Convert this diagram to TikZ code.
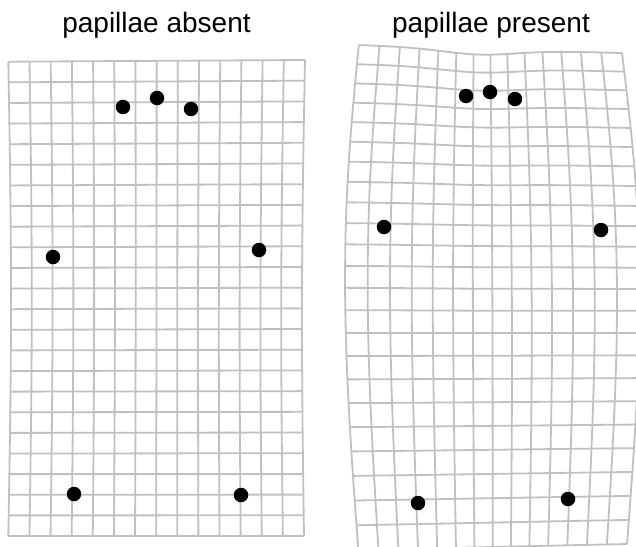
\documentclass[tikz,border=0pt]{standalone}
\usepackage{fontspec}
\setmainfont{Liberation Sans}
\definecolor{gridgray}{RGB}{192,192,192}
\begin{document}
\begin{tikzpicture}[x=1pt,y=-1pt,
  gridline/.style={draw=gridgray,line width=1.8pt,line join=round},
  lmk/.style={circle,fill=black,inner sep=0pt,minimum size=14.5pt},
  title/.style={anchor=base,inner sep=0pt,font=\fontsize{28}{32}\selectfont},
  declare function={
    LxL(\t)=8.3+2.7*sin(180*\t);
    LxR(\t)=305-1*\t-2.5*sin(180*\t);
    LX(\u,\v)=LxL(\v/23)+(LxR(\v/23)-LxL(\v/23))*\u/14;
    LY(\u,\v)=(61.7-1.7*\u/14)*(1-\v/23)+536*\v/23;
    RxL(\t)=358.8-0.5*\t-13.5*sin(180*\t);
    RxR(\t)=622+5*\t+15*sin(180*\t);
    RA(\t)=0.017*(1-\t)+0.008*\t;
    Rg(\s,\t)=\s+RA(\t)*sin(360*\s);
    RX(\u,\v)=RxL(\v/23)+(RxR(\v/23)-RxL(\v/23))*Rg(\u/14,\v/23);
    Rh(\t)=\t-0.041*sin(180*\t);
    Rq(\s)=(\s-0.45)/0.22;
    Rd(\t)=(1-\t)*(1-\t)*(1-\t)*(1-\t);
    RY(\u,\v)=(45+8*\u/14)*(1-Rh(\v/23))+(550-6*\u/14)*Rh(\v/23)+6*Rd(\v/23)*exp(-(Rq(\u/14)*Rq(\u/14)));
  }]
\useasboundingbox (0,0) rectangle (636,546);
\begin{scope}
  \clip (0,0) rectangle (636,546);
  % left grid
  \foreach \u in {0,...,14}
    \draw[gridline] plot[domain=0:23,samples=47] ({LX(\u,\x)},{LY(\u,\x)});
  \foreach \v in {0,...,23}
    \draw[gridline] plot[domain=0:14,samples=29] ({LX(\x,\v)},{LY(\x,\v)});
  % right grid
  \foreach \u in {0,...,14}
    \draw[gridline] plot[domain=0:23,samples=47] ({RX(\u,\x)},{RY(\u,\x)});
  \foreach \v in {0,...,23}
    \draw[gridline] plot[domain=0:14,samples=29] ({RX(\x,\v)},{RY(\x,\v)});
\end{scope}
% titles
\node[title] (tabsent) at (156.5,32.5) {papillae absent};
\node[title] (tpresent) at (491,32.5) {papillae present};
% landmarks, papillae absent
\node[lmk] (a1) at (123,107) {};
\node[lmk] (a2) at (157,98) {};
\node[lmk] (a3) at (191,109) {};
\node[lmk] (a4) at (53,257) {};
\node[lmk] (a5) at (259,250) {};
\node[lmk] (a6) at (74,494) {};
\node[lmk] (a7) at (241,495) {};
% landmarks, papillae present
\node[lmk] (p1) at (466,96) {};
\node[lmk] (p2) at (490,92) {};
\node[lmk] (p3) at (515,99) {};
\node[lmk] (p4) at (384,227) {};
\node[lmk] (p5) at (601,230) {};
\node[lmk] (p6) at (418,503) {};
\node[lmk] (p7) at (568,499) {};
\end{tikzpicture}
\end{document}
